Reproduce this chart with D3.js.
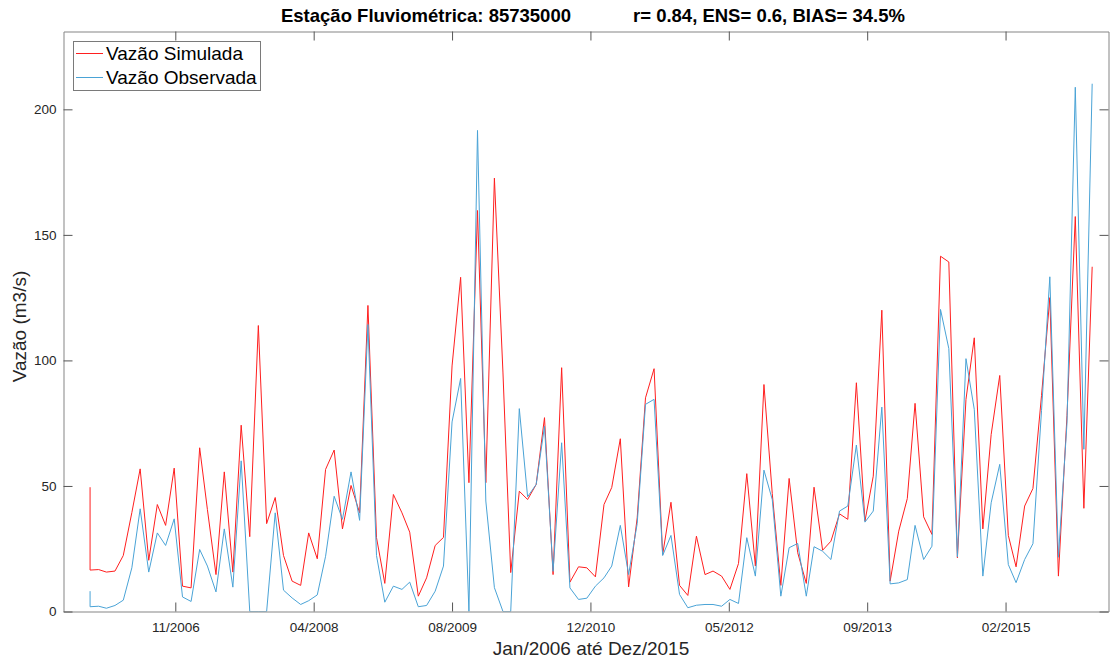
<!DOCTYPE html>
<html>
<head>
<meta charset="utf-8">
<script src="https://cdn.jsdelivr.net/npm/d3@7"></script>
<style>
  html, body { margin: 0; padding: 0; background: #ffffff; }
  svg { display: block; font-family: "Liberation Sans", Arial, Helvetica, sans-serif; }
</style>
</head>
<body>
<svg id="chart" width="1112" height="662"></svg>
<script>
// ---- data (monthly, Jan/2006 .. Dec/2015; first month is listed twice, as in the original plot) ----
const months = (() => {
  const a = ["2006-01-15"];
  for (let y = 2006; y <= 2015; y++)
    for (let m = 1; m <= 12; m++) a.push(`${y}-${String(m).padStart(2, "0")}-15`);
  return a;
})();

const simulada = [
  49.5,
  16.5, 16.7, 15.7, 16.1, 22.3, 39.4, 56.8, 20.4, 42.6, 34.3, 57.1, 10.1,
  9.4, 65.2, 40.6, 14.7, 55.6, 15.7, 74.2, 29.8, 113.9, 35.0, 45.4, 22.3,
  12.1, 10.4, 31.3, 21.0, 56.6, 64.3, 32.9, 50.2, 39.3, 121.9, 29.4, 11.2,
  46.6, 39.3, 31.6, 6.1, 13.4, 26.3, 29.5, 97.8, 133.1, 51.3, 159.7, 51.3,
  172.6, 95.0, 15.5, 47.9, 44.6, 50.6, 77.2, 14.7, 97.1, 11.7, 17.8, 17.4,
  13.8, 42.6, 49.4, 68.8, 9.8, 37.3, 85.1, 96.7, 22.7, 43.5, 10.4, 6.4,
  30.0, 14.7, 16.1, 14.1, 8.8, 19.1, 54.9, 18.1, 90.4, 47.0, 10.4, 53.0,
  23.4, 11.2, 49.5, 24.4, 28.0, 38.9, 36.7, 91.1, 36.0, 53.9, 120.0, 12.1,
  32.0, 45.0, 82.9, 37.7, 30.7, 141.5, 139.2, 21.4, 84.5, 109.0, 32.9, 70.5,
  94.0, 30.3, 17.8, 42.0, 49.0, 86.0, 125.0, 14.1, 78.0, 157.3, 41.1, 137.3
];

const observada = [
  8.1,
  1.9, 2.1, 1.3, 2.4, 4.5, 17.4, 40.9, 15.7, 31.3, 26.3, 36.9, 5.8,
  4.0, 24.7, 18.1, 7.8, 32.9, 9.7, 60.0, 0, 0, 0, 39.3, 8.5,
  5.4, 2.8, 4.3, 6.6, 22.0, 45.9, 36.7, 55.6, 36.3, 114.3, 22.3, 3.7,
  10.1, 8.8, 11.7, 1.9, 2.4, 8.1, 18.1, 75.5, 92.8, 0, 191.6, 44.0,
  9.5, 0, 0, 80.8, 45.7, 50.6, 73.8, 16.0, 67.2, 9.4, 4.8, 5.3,
  10.1, 13.4, 18.1, 34.3, 14.7, 35.0, 82.5, 84.5, 22.3, 30.3, 6.8, 1.5,
  2.5, 2.8, 2.8, 2.1, 4.8, 3.2, 29.4, 14.1, 56.3, 44.6, 6.1, 25.4,
  27.1, 6.1, 25.8, 24.0, 20.7, 40.0, 42.0, 66.3, 35.6, 40.0, 81.4, 11.0,
  11.4, 12.7, 34.3, 20.7, 26.0, 120.3, 104.7, 21.8, 100.7, 80.5, 14.1, 43.3,
  58.6, 18.7, 11.5, 20.7, 27.0, 80.0, 133.3, 21.6, 75.0, 208.8, 64.6, 210.2
];

const xTickDates  = ["2006-11-19", "2008-04-02", "2009-08-15", "2010-12-28", "2012-05-11", "2013-09-23", "2015-02-05"];
const xTickLabels = ["11/2006", "04/2008", "08/2009", "12/2010", "05/2012", "09/2013", "02/2015"];
const yTicks = [0, 50, 100, 150, 200];
const xLimits = ["2005-10-11", "2016-02-12"];
const yLimits = [0, 231];

const seriesNames = ["Vazão Simulada", "Vazão Observada"];
const titleParts = ["Estação Fluviométrica: 85735000", "r= 0.84, ENS= 0.6, BIAS= 34.5%"];
const xLabel = "Jan/2006 até Dez/2015";
const yLabel = "Vazão (m3/s)";

// ---- layout ----
const svg = d3.select("#chart");
const L = 63.5, R = 1108.5, T = 31.5, B = 611.5;
const parse = d3.utcParse("%Y-%m-%d");
const dates = months.map(parse);

const x = d3.scaleUtc().domain(xLimits.map(parse)).range([L, R]);
const y = d3.scaleLinear().domain(yLimits).range([B, T]);

const axisColor = "#262626";
const boxColor = "#858585";
const seriesColors = ["#ff1f1f", "#4aa3d6"];

// clip
svg.append("defs").append("clipPath").attr("id", "clip")
  .append("rect").attr("x", L).attr("y", T).attr("width", R - L).attr("height", B - T);

const line = d3.line().x((d, i) => x(dates[i])).y(d => y(d));

const g = svg.append("g").attr("clip-path", "url(#clip)");
g.append("path").datum(simulada).attr("d", line)
  .attr("fill", "none").attr("stroke", seriesColors[0]).attr("stroke-width", 1);
g.append("path").datum(observada).attr("d", line)
  .attr("fill", "none").attr("stroke", seriesColors[1]).attr("stroke-width", 1);

// axes with inward ticks
const xTicks = xTickDates.map(parse);
const tickLen = 9;
const xAxisB = d3.axisBottom(x).tickValues(xTicks).tickSizeInner(-tickLen).tickSizeOuter(0)
  .tickPadding(11).tickFormat((d, i) => xTickLabels[i]);
const xAxisT = d3.axisTop(x).tickValues(xTicks).tickSizeInner(-tickLen).tickSizeOuter(0).tickFormat("");
const yAxisL = d3.axisLeft(y).tickValues(yTicks).tickSizeInner(-tickLen).tickSizeOuter(0)
  .tickPadding(7).tickFormat(d3.format("d"));
const yAxisR = d3.axisRight(y).tickValues(yTicks).tickSizeInner(-tickLen).tickSizeOuter(0).tickFormat("");

function style(sel) {
  sel.select(".domain").attr("stroke", boxColor).attr("stroke-width", 1);
  sel.selectAll(".tick line").attr("stroke", "#555").attr("stroke-width", 1);
  sel.selectAll(".tick text").attr("fill", axisColor).style("font-size", "13.5px");
}
svg.append("g").attr("transform", `translate(0,${B})`).call(xAxisB).call(style);
svg.append("g").attr("transform", `translate(0,${T})`).call(xAxisT).call(style);
svg.append("g").attr("transform", `translate(${L},0)`).call(yAxisL).call(style);
svg.append("g").attr("transform", `translate(${R},0)`).call(yAxisR).call(style);

// title (two parts separated by a wide gap, centred as a whole)
const titleG = svg.append("g");
const tps = titleParts.map(t => titleG.append("text").attr("y", 22).attr("fill", "#000")
  .style("font-size", "18.5px").style("font-weight", "bold").text(t));
const gap = 62;
const w = tps.map(t => t.node().getComputedTextLength());
const total = w[0] + gap + w[1];
const startX = (L + R) / 2 + 7 - total / 2;
tps[0].attr("x", startX);
tps[1].attr("x", startX + w[0] + gap);

// axis labels
svg.append("text").attr("x", (L + R) / 2 + 5).attr("y", 655)
  .attr("text-anchor", "middle").attr("fill", axisColor).style("font-size", "19px")
  .text(xLabel);
svg.append("text").attr("transform", `translate(26,${(T + B) / 2 + 5}) rotate(-90)`)
  .attr("text-anchor", "middle").attr("fill", axisColor).style("font-size", "19px")
  .text(yLabel);

// legend
const lg = svg.append("g");
lg.append("rect").attr("x", 73.5).attr("y", 41.5).attr("width", 187).attr("height", 49)
  .attr("fill", "#fff").attr("stroke", "#7a7a7a").attr("stroke-width", 1);
seriesNames.forEach((name, i) => {
  const yy = 53 + i * 24;
  lg.append("rect").attr("x", 76).attr("y", yy).attr("width", 27).attr("height", 1)
    .attr("fill", seriesColors[i]);
  lg.append("text").attr("x", 106).attr("y", yy + 7).attr("fill", "#000")
    .style("font-size", "19px").text(name);
});
</script>
</body>
</html>
